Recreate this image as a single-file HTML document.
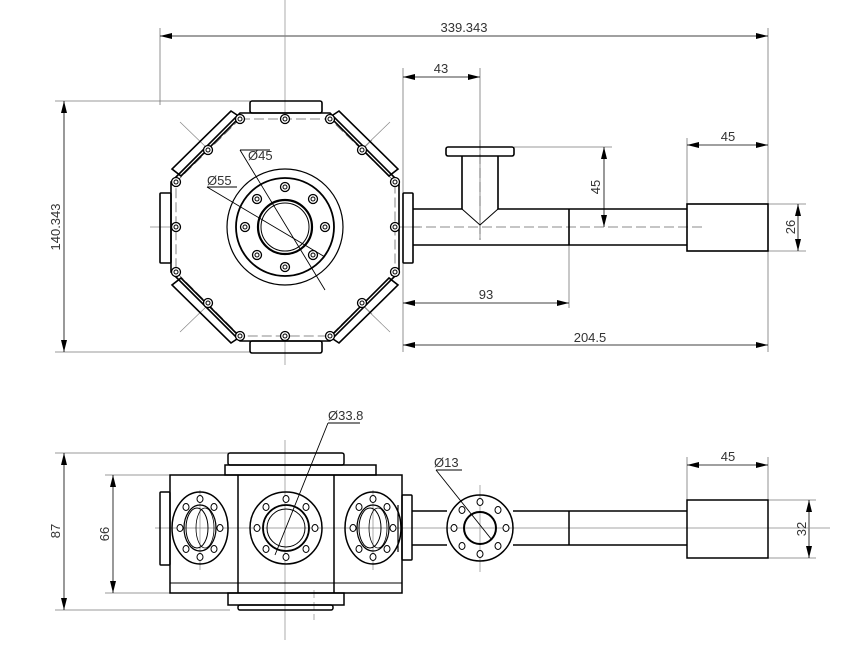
<!DOCTYPE html>
<html><head><meta charset="utf-8"><style>
html,body{margin:0;padding:0;background:#fff}
svg{display:block}
text{font-family:"Liberation Sans",sans-serif;font-size:13px;fill:#333}
</style></head><body>
<svg width="868" height="657" viewBox="0 0 868 657" xmlns="http://www.w3.org/2000/svg">
<defs>
<marker id="a" viewBox="0 0 12 6" refX="12" refY="3" markerWidth="12" markerHeight="6" orient="auto-start-reverse" markerUnits="userSpaceOnUse"><path d="M0,0L12,3L0,6z" fill="#000"/></marker>
<g id="b"><circle r="4.5" fill="#fff" stroke="#000" stroke-width="1.3"/><circle r="2" fill="none" stroke="#000" stroke-width="1"/></g>
<g id="h"><ellipse rx="3" ry="3.5" fill="#fff" stroke="#000" stroke-width="1"/></g>
</defs>
<g fill="none" stroke="#777" stroke-width="0.8">
<line x1="160" y1="28" x2="160" y2="105"/><line x1="768" y1="28" x2="768" y2="352"/>
<line x1="160" y1="36" x2="768" y2="36" marker-start="url(#a)" marker-end="url(#a)" stroke="#000"/>
<line x1="55" y1="101" x2="250" y2="101"/><line x1="55" y1="352" x2="250" y2="352"/>
<line x1="64" y1="101" x2="64" y2="352" marker-start="url(#a)" marker-end="url(#a)" stroke="#000"/>
<line x1="403" y1="68" x2="403" y2="352"/><line x1="480" y1="68" x2="480" y2="240"/>
<line x1="403" y1="77" x2="480" y2="77" marker-start="url(#a)" marker-end="url(#a)" stroke="#000"/>
<line x1="514" y1="147" x2="612" y2="147"/>
<line x1="604" y1="147" x2="604" y2="227" marker-start="url(#a)" marker-end="url(#a)" stroke="#000"/>
<line x1="687" y1="138" x2="687" y2="204"/>
<line x1="687" y1="145" x2="768" y2="145" marker-start="url(#a)" marker-end="url(#a)" stroke="#000"/>
<line x1="768" y1="204" x2="806" y2="204"/><line x1="768" y1="251" x2="806" y2="251"/>
<line x1="798" y1="204" x2="798" y2="251" marker-start="url(#a)" marker-end="url(#a)" stroke="#000"/>
<line x1="569" y1="245" x2="569" y2="308"/>
<line x1="403" y1="303" x2="569" y2="303" marker-start="url(#a)" marker-end="url(#a)" stroke="#000"/>
<line x1="403" y1="345" x2="768" y2="345" marker-start="url(#a)" marker-end="url(#a)" stroke="#000"/>
<line x1="55" y1="453" x2="230" y2="453"/><line x1="55" y1="610" x2="230" y2="610"/>
<line x1="64" y1="453" x2="64" y2="610" marker-start="url(#a)" marker-end="url(#a)" stroke="#000"/>
<line x1="105" y1="475" x2="172" y2="475"/><line x1="105" y1="593" x2="172" y2="593"/>
<line x1="113" y1="475" x2="113" y2="593" marker-start="url(#a)" marker-end="url(#a)" stroke="#000"/>
<line x1="687" y1="457" x2="687" y2="500"/><line x1="768" y1="457" x2="768" y2="500"/>
<line x1="687" y1="465" x2="768" y2="465" marker-start="url(#a)" marker-end="url(#a)" stroke="#000"/>
<line x1="768" y1="500" x2="816" y2="500"/><line x1="768" y1="558" x2="816" y2="558"/>
<line x1="809" y1="500" x2="809" y2="558" marker-start="url(#a)" marker-end="url(#a)" stroke="#000"/>
<g stroke="#888" stroke-width="0.7">
<line x1="285" y1="0" x2="285" y2="365"/>
<line x1="150" y1="227" x2="420" y2="227"/>
<line x1="180" y1="122" x2="238" y2="178"/><line x1="390" y1="122" x2="332" y2="178"/>
<line x1="180" y1="332" x2="238" y2="276"/><line x1="390" y1="332" x2="332" y2="276"/>
<line x1="285" y1="227" x2="372" y2="140"/><line x1="285" y1="227" x2="372" y2="314"/>
<line x1="285" y1="640" x2="285" y2="440"/><line x1="200" y1="490" x2="200" y2="570"/><line x1="373" y1="490" x2="373" y2="570"/>
<line x1="155" y1="528" x2="830" y2="528"/>
<line x1="480" y1="485" x2="480" y2="572"/>
<line x1="314" y1="590" x2="314" y2="620" stroke-dasharray="8 4"/>
</g>
<g stroke="#666" stroke-dasharray="10 4" stroke-width="0.8">
<line x1="412" y1="227" x2="705" y2="227"/>
<line x1="480" y1="140" x2="480" y2="240"/>
<polygon points="240,119 330,119 395,182 395,272 330,336 240,336 176,272 176,182"/>
<circle cx="285" cy="227" r="40"/>
</g>
</g>
<g fill="none" stroke="#000" stroke-width="1.6">
<polygon points="240,113 330,113 399,182 399,272 330,341 240,341 171,272 171,182" fill="#fff"/>
<polygon points="240,119 330,119 395,182 395,272 330,336 240,336 176,272 176,182" stroke="#666" stroke-width="0.8" stroke-dasharray="10 4"/>
<rect x="250" y="101" width="72" height="12" rx="2"/>
<rect x="250" y="341" width="72" height="12" rx="2"/>
<rect x="160" y="193" width="11" height="70" rx="1"/>
<rect x="403" y="193" width="10" height="70" rx="1"/>
<polygon points="231,111 240,117 181,176 172,169" />
<polygon points="339,111 330,117 389,176 398,169" />
<polygon points="231,343 240,337 181,278 172,285" />
<polygon points="339,343 330,337 389,278 398,285" />
<circle cx="285" cy="227" r="58" stroke-width="1.2"/>
<circle cx="285" cy="227" r="49" stroke-width="1.8"/>
<circle cx="285" cy="227" r="27" stroke-width="2.2"/>
<circle cx="285" cy="227" r="24" stroke-width="1"/>
<path d="M413,209 H462 V156 M498,156 V209 H687 M413,245 H687" />
<line x1="569" y1="209" x2="569" y2="245"/>
<path d="M462,209 L480,225 L498,209" stroke-width="1"/>
<rect x="446" y="147" width="68" height="9" rx="2"/>
<rect x="687" y="204" width="81" height="47"/>
</g>
<g stroke="#000" stroke-width="0.9" fill="none">
<line x1="240" y1="150" x2="325" y2="290"/><line x1="240" y1="150" x2="270" y2="150"/>
<line x1="207" y1="187" x2="325" y2="257"/><line x1="207" y1="187" x2="237" y2="187"/>
</g>
<use href="#b" x="240" y="119"/><use href="#b" x="285" y="119"/><use href="#b" x="330" y="119"/>
<use href="#b" x="240" y="336"/><use href="#b" x="285" y="336"/><use href="#b" x="330" y="336"/>
<use href="#b" x="176" y="182"/><use href="#b" x="176" y="227"/><use href="#b" x="176" y="272"/>
<use href="#b" x="395" y="182"/><use href="#b" x="395" y="227"/><use href="#b" x="395" y="272"/>
<use href="#b" x="208" y="150"/><use href="#b" x="362" y="150"/><use href="#b" x="208" y="303"/><use href="#b" x="362" y="303"/>
<use href="#b" x="325" y="227"/><use href="#b" x="313" y="255"/><use href="#b" x="285" y="267"/><use href="#b" x="257" y="255"/>
<use href="#b" x="245" y="227"/><use href="#b" x="257" y="199"/><use href="#b" x="285" y="187"/><use href="#b" x="313" y="199"/>
<g fill="none" stroke="#000" stroke-width="1.5">
<rect x="228" y="453" width="116" height="12" rx="2"/>
<rect x="225" y="465" width="151" height="10"/>
<rect x="170" y="475" width="232" height="118"/>
<line x1="238" y1="475" x2="238" y2="593"/><line x1="334" y1="475" x2="334" y2="593"/>
<line x1="170" y1="583" x2="402" y2="583" stroke-width="1"/>
<rect x="228" y="593" width="116" height="12"/>
<rect x="238" y="605" width="95" height="5" rx="2"/>
<rect x="160" y="492" width="10" height="73" rx="1"/>
<rect x="402" y="495" width="10" height="65" rx="1"/>
<ellipse cx="200" cy="528" rx="28" ry="36"/>
<ellipse cx="200" cy="528" rx="16" ry="23" stroke-width="1.2"/>
<ellipse cx="197" cy="528" rx="11" ry="20" stroke-width="1"/>
<ellipse cx="205" cy="528" rx="9" ry="20" stroke-width="0.8"/>
<ellipse cx="373" cy="528" rx="28" ry="36"/>
<ellipse cx="373" cy="528" rx="16" ry="23" stroke-width="1.2"/>
<ellipse cx="370" cy="528" rx="11" ry="20" stroke-width="1"/>
<ellipse cx="378" cy="528" rx="9" ry="20" stroke-width="0.8"/>
<line x1="398" y1="505" x2="398" y2="552" stroke-width="1.2"/>
<circle cx="286" cy="528" r="36"/>
<circle cx="286" cy="528" r="23" stroke-width="1.8"/>
<circle cx="286" cy="528" r="19" stroke-width="1"/>
<path d="M412,511 H447 M412,545 H447 M513,511 H687 M513,545 H687"/>
<line x1="569" y1="511" x2="569" y2="545"/>
<circle cx="480" cy="528" r="33"/>
<circle cx="480" cy="528" r="16" stroke-width="2"/>
<rect x="687" y="500" width="81" height="58"/>
</g>
<g stroke="#000" stroke-width="0.9" fill="none">
<line x1="328" y1="423" x2="275" y2="555"/><line x1="328" y1="423" x2="360" y2="423"/>
<line x1="436" y1="470" x2="492" y2="540"/><line x1="436" y1="470" x2="462" y2="470"/>
</g>
<g>
<use href="#h" x="200" y="499"/><use href="#h" x="214" y="507"/><use href="#h" x="220" y="528"/><use href="#h" x="214" y="549"/>
<use href="#h" x="200" y="557"/><use href="#h" x="186" y="549"/><use href="#h" x="180" y="528"/><use href="#h" x="186" y="507"/>
<use href="#h" x="373" y="499"/><use href="#h" x="387" y="507"/><use href="#h" x="393" y="528"/><use href="#h" x="387" y="549"/>
<use href="#h" x="373" y="557"/><use href="#h" x="359" y="549"/><use href="#h" x="353" y="528"/><use href="#h" x="359" y="507"/>
<use href="#h" x="286" y="499"/><use href="#h" x="306" y="507"/><use href="#h" x="315" y="528"/><use href="#h" x="306" y="549"/>
<use href="#h" x="286" y="557"/><use href="#h" x="266" y="549"/><use href="#h" x="257" y="528"/><use href="#h" x="266" y="507"/>
<use href="#h" x="480" y="502"/><use href="#h" x="498" y="510"/><use href="#h" x="506" y="528"/><use href="#h" x="498" y="546"/>
<use href="#h" x="480" y="554"/><use href="#h" x="462" y="546"/><use href="#h" x="454" y="528"/><use href="#h" x="462" y="510"/>
</g>
<text x="464" y="32" text-anchor="middle">339.343</text>
<text x="441" y="73" text-anchor="middle">43</text>
<text x="728" y="141" text-anchor="middle">45</text>
<text x="486" y="299" text-anchor="middle">93</text>
<text x="590" y="342" text-anchor="middle">204.5</text>
<text x="248" y="160">Ø45</text>
<text x="207" y="185">Ø55</text>
<text transform="translate(60,227) rotate(-90)" text-anchor="middle">140.343</text>
<text transform="translate(600,187) rotate(-90)" text-anchor="middle">45</text>
<text transform="translate(795,227) rotate(-90)" text-anchor="middle">26</text>
<text transform="translate(60,531) rotate(-90)" text-anchor="middle">87</text>
<text transform="translate(109,534) rotate(-90)" text-anchor="middle">66</text>
<text transform="translate(806,529) rotate(-90)" text-anchor="middle">32</text>
<text x="728" y="461" text-anchor="middle">45</text>
<text x="328" y="420">Ø33.8</text>
<text x="434" y="467">Ø13</text>
</svg>
</body></html>
